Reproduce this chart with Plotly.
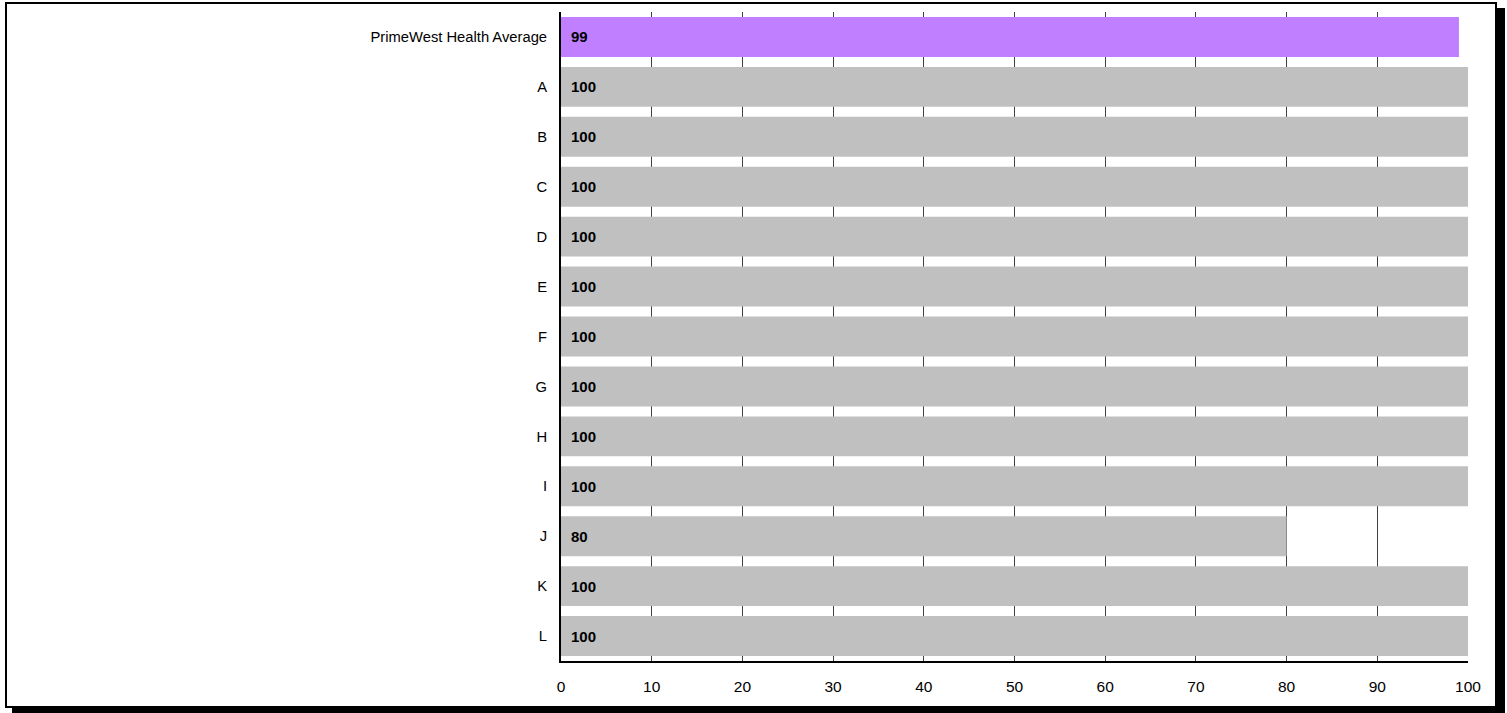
import plotly.graph_objects as go

categories = ["PrimeWest Health Average", "A", "B", "C", "D", "E", "F", "G", "H", "I", "J", "K", "L"]
values = [99, 100, 100, 100, 100, 100, 100, 100, 100, 100, 80, 100, 100]
bar_colors = ["#BF7FFF"] + ["#C0C0C0"] * 12
tick_vals = [0, 10, 20, 30, 40, 50, 60, 70, 80, 90, 100]

W, H = 1507, 713
L, R, T, B = 561, 39, 12, 52
pw, ph = W - L - R, H - T - B
FONT = "Liberation Sans, Arial, Helvetica, sans-serif"

def px_x(p):
    return (p - L) / pw

def px_y(p):
    return (H - B - p) / ph

fig = go.Figure()
fig.add_trace(go.Bar(
    x=values, y=categories, orientation="h",
    marker=dict(color=bar_colors, line=dict(width=0)),
    hoverinfo="skip",
))

for c, v in zip(categories, values):
    fig.add_annotation(x=0, y=c, text=f"<b>{v}</b>", showarrow=False,
                       xanchor="left", xshift=8, yshift=0,
                       font=dict(family=FONT, size=15, color="black"))

shapes = [
    dict(type="rect", xref="paper", yref="paper", layer="below",
         x0=px_x(12), x1=px_x(1505), y0=px_y(713), y1=px_y(8),
         fillcolor="black", line=dict(width=0)),
    dict(type="rect", xref="paper", yref="paper", layer="below",
         x0=px_x(6), x1=px_x(1496), y0=px_y(707), y1=px_y(3),
         fillcolor="white", line=dict(color="black", width=2)),
]

fig.update_layout(
    width=W, height=H,
    margin=dict(l=L, r=R, t=T, b=B, pad=0),
    paper_bgcolor="white", plot_bgcolor="rgba(0,0,0,0)",
    bargap=0.2, showlegend=False,
    shapes=shapes,
    font=dict(family=FONT, size=15, color="black"),
    xaxis=dict(range=[0, 100], tickvals=tick_vals, showgrid=True,
               gridcolor="#404040", gridwidth=1, zeroline=False,
               showline=True, linecolor="black", linewidth=2,
               ticks="", ticklabelstandoff=10,
               tickfont=dict(size=15.5, color="black"), fixedrange=True),
    yaxis=dict(autorange="reversed", showgrid=False, zeroline=False,
               showline=True, linecolor="black", linewidth=2,
               ticks="", ticklabelstandoff=9,
               tickfont=dict(size=14.75, color="black"), fixedrange=True),
)

fig.write_html("out.html", config=dict(displayModeBar=False))
